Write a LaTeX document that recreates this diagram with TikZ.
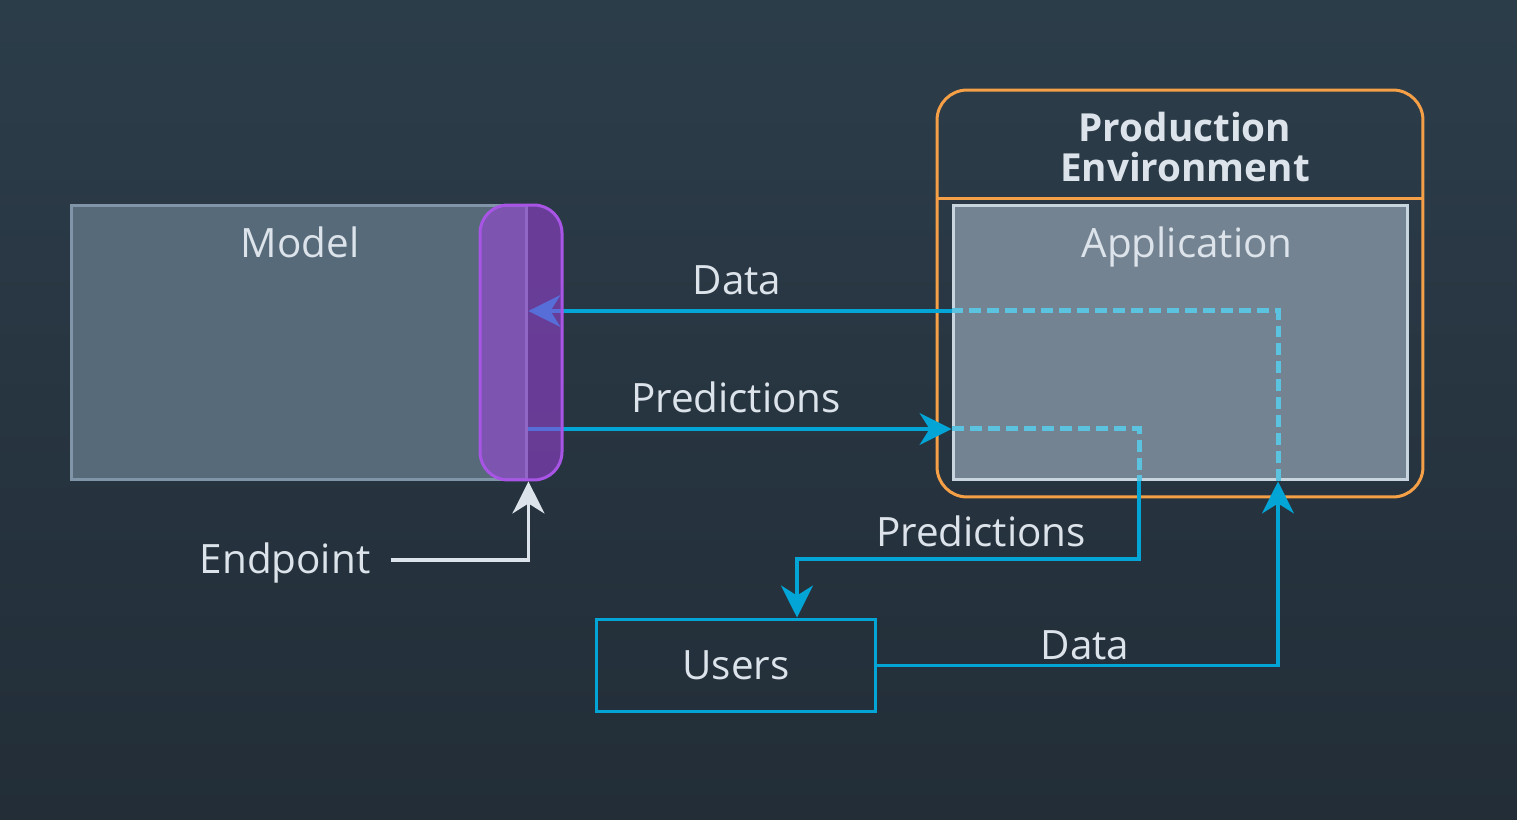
\documentclass[tikz,border=0pt]{standalone}
\usepackage{fontspec}
\setmainfont{Open Sans}
\usetikzlibrary{arrows.meta}
\definecolor{bgtop}{RGB}{44, 61, 74}
\definecolor{bgbottom}{RGB}{34, 45, 55}
\definecolor{flowblue}{RGB}{2, 165, 214}
\definecolor{flowlight}{RGB}{91, 195, 224}
\definecolor{envorange}{RGB}{245, 160, 71}
\definecolor{endpurple}{RGB}{158, 66, 220}
\definecolor{endborder}{RGB}{168, 85, 230}
\definecolor{modelfill}{RGB}{86, 106, 121}
\definecolor{modelline}{RGB}{128, 150, 168}
\definecolor{appfill}{RGB}{115, 131, 145}
\definecolor{appline}{RGB}{200, 212, 222}
\definecolor{labeltext}{RGB}{220, 227, 234}

\begin{document}
\begin{tikzpicture}[x=0.02cm, y=-0.02cm,
    lbl/.style={text=labeltext, font=\fontsize{23}{27}\selectfont, inner sep=0pt, anchor=base},
    flow/.style={flowblue, line width=0.065cm},
    inside/.style={flowlight, line width=0.1cm, dash pattern=on 0.24cm off 0.12cm},
    tip/.style={-{Stealth[length=0.64cm, width=0.64cm, inset=0.2cm]}}]
    % Background
    \shade[top color=bgtop, bottom color=bgbottom] (0,0) rectangle (1517,820);

    % Model
    \node[draw=modelline, fill=modelfill, line width=0.06cm, minimum width=9.12cm,
          minimum height=5.5cm] (model) at (299,342.5) {};
    \node[lbl] (modeltxt) at (300,258) {Model};

    % Production environment
    \node[draw=envorange, line width=0.06cm, rounded corners=0.6cm, minimum width=9.72cm,
          minimum height=8.14cm] (env) at (1180,293.5) {};
    \draw[envorange, line width=0.06cm] (env.west |- 0,199) -- (env.east |- 0,199);
    \node[lbl, anchor=center, align=center, font=\fontsize{22}{22.7}\selectfont\bfseries]
          (envtxt) at (1185,147) {Production\\Environment};
    \node[draw=appline, fill=appfill, line width=0.06cm, minimum width=9.1cm,
          minimum height=5.5cm] (app) at (1180.5,342.5) {};
    \node[lbl] (apptxt) at (1187,258) {Application};

    % Users
    \node[draw=flowblue, line width=0.06cm, minimum width=5.6cm, minimum height=1.86cm,
          lbl, anchor=center, inner sep=0pt] (users) at (736,665.5) {Users};

    % Data path
    \coordinate (d1) at (1278,311);
    \draw[inside] (app.south -| d1) -- (d1) -- (app.west |- d1);
    \draw[flow, tip] (app.west |- d1) -- (model.east |- d1);
    \draw[flow, tip] (users.east) -| (app.south -| d1);
    \node[lbl] (datatop) at (737,295) {Data};
    \node[lbl] (databot) at (1085,659) {Data};

    % Predictions path
    \coordinate (p1) at (1139,429);
    \coordinate (p2) at (797,559);
    \draw[flow, tip] (model.east |- p1) -- (app.west |- p1);
    \draw[inside] (app.west |- p1) -- (p1) -- (app.south -| p1);
    \draw[flow, tip] (app.south -| p1) |- (p2) -- (users.north -| p2);
    \node[lbl] (predtop) at (736,413) {Predictions};
    \node[lbl] (predbot) at (981,546) {Predictions};

    % Endpoint
    \node[draw=endborder, fill=endpurple, fill opacity=0.55, line width=0.06cm,
          rounded corners=0.56cm, minimum width=1.64cm, minimum height=5.5cm] (endp) at (521,342.5) {};
    \node[lbl] (endtxt) at (285,573) {Endpoint};
    \draw[labeltext, line width=0.065cm, tip] ([xshift=0.4cm]endtxt.east |- 0,560) -| (model.south east);
\end{tikzpicture}
\end{document}
